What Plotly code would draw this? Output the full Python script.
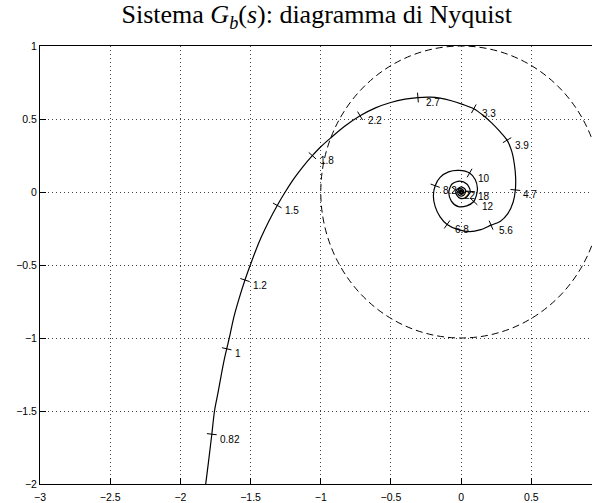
import math
import plotly.graph_objects as go

re_vals = [-1.826, -1.800, -1.776, -1.757, -1.733, -1.711, -1.688, -1.670, -1.650, -1.620,
           -1.582, -1.540, -1.500, -1.459, -1.426, -1.370, -1.310, -1.250, -1.190, -1.125,
           -1.060, -1.000, -0.931, -0.830, -0.720, -0.610, -0.502, -0.400, -0.308, -0.220,
           -0.150, -0.070, 0.010, 0.090, 0.160, 0.215, 0.272, 0.327, 0.360, 0.379,
           0.388, 0.386, 0.370, 0.331, 0.280, 0.213, 0.140, 0.060, -0.020, -0.100,
           -0.150, -0.185, -0.198, -0.185, -0.150, -0.090, -0.015, 0.060, 0.100, 0.116,
           0.108, 0.090, 0.040, -0.020, -0.070, -0.088, -0.065, -0.010, 0.040, 0.065,
           0.030, -0.010, -0.037, -0.035, 0.000, 0.028, 0.030, 0.018, 0.000, -0.020,
           -0.024, -0.015, 0.000, 0.016, 0.018, 0.010, 0.000, -0.012, -0.014, -0.008,
           0.000, 0.009, 0.010, 0.005, 0.000, -0.006, -0.006, -0.003, 0.000, 0.003, 0.000]
im_vals = [-2.050, -1.850, -1.659, -1.500, -1.380, -1.264, -1.150, -1.074, -0.993, -0.860,
           -0.730, -0.603, -0.495, -0.390, -0.314, -0.200, -0.092, 0.005, 0.093, 0.176,
           0.249, 0.310, 0.369, 0.450, 0.522, 0.576, 0.613, 0.636, 0.647, 0.650,
           0.643, 0.625, 0.600, 0.570, 0.522, 0.475, 0.418, 0.355, 0.280, 0.190,
           0.100, 0.014, -0.070, -0.150, -0.200, -0.227, -0.258, -0.272, -0.258, -0.222,
           -0.170, -0.100, -0.025, 0.043, 0.100, 0.138, 0.148, 0.130, 0.085, 0.025,
           -0.025, -0.065, -0.095, -0.100, -0.062, 0.000, 0.055, 0.075, 0.055, 0.004,
           -0.040, -0.042, -0.010, 0.012, 0.035, 0.020, -0.002, -0.022, -0.028, -0.018,
           0.002, 0.020, 0.023, 0.012, -0.002, -0.014, -0.016, -0.008, 0.002, 0.012,
           0.013, 0.006, -0.002, -0.008, -0.008, -0.003, 0.002, 0.005, 0.004, 0.001, 0.000]

# frequency marks (rad/s) and their positions on the curve
freq_labels = ["0.82", "1", "1.2", "1.5", "1.8", "2.2", "2.7", "3.3", "3.9", "4.7",
               "5.6", "6.8", "8.2", "10", "12", "18", "22"]
tick_re = [-1.776, -1.670, -1.540, -1.310, -1.060, -0.720, -0.308, 0.090, 0.327, 0.386,
           0.213, -0.100, -0.185, 0.060, 0.090, 0.065, -0.037]
tick_im = [-1.659, -1.074, -0.603, -0.092, 0.249, 0.522, 0.647, 0.570, 0.355, 0.014,
           -0.227, -0.222, 0.043, 0.130, -0.065, 0.004, 0.012]

x_ticks = [-3, -2.5, -2, -1.5, -1, -0.5, 0, 0.5]
y_ticks = [-2, -1.5, -1, -0.5, 0, 0.5, 1]

W, H = 592, 503
ML, MR, MT, MB = 40, 0, 46, 15
x_range = [-3, 0.932]
y_range = [-2, 1]
sx = (W - ML - MR) / (x_range[1] - x_range[0])
sy = (H - MT - MB) / (y_range[1] - y_range[0])

# orientation of the little marks: perpendicular to the curve
angles = []
for tx, ty in zip(tick_re, tick_im):
    i = min(range(len(re_vals)), key=lambda k: (re_vals[k] - tx) ** 2 + (im_vals[k] - ty) ** 2)
    a = max(i - 1, 0)
    b = min(i + 1, len(re_vals) - 1)
    dx = (re_vals[b] - re_vals[a]) * sx
    dy = -(im_vals[b] - im_vals[a]) * sy
    angles.append(math.degrees(math.atan2(dy, dx)) + 90)

fig = go.Figure()
fig.add_shape(type="circle", xref="x", yref="y", x0=-1, y0=-1, x1=1, y1=1,
              line=dict(color="black", width=1, dash="7px,4px"), layer="below")
fig.add_trace(go.Scatter(x=re_vals, y=im_vals, mode="lines",
                         line=dict(color="black", width=1.2, shape="spline", smoothing=0.8),
                         hoverinfo="skip", showlegend=False))
fig.add_trace(go.Scatter(x=tick_re, y=tick_im, mode="markers",
                         marker=dict(symbol="line-ew", size=7, angle=angles, color="black",
                                     line=dict(color="black", width=1)),
                         hoverinfo="skip", showlegend=False))
for lab, tx, ty in zip(freq_labels, tick_re, tick_im):
    fig.add_annotation(x=tx, y=ty, text=lab, showarrow=False, xanchor="left", yanchor="middle",
                       xshift=6, yshift=-5,
                       font=dict(family="Liberation Sans, Arial, sans-serif", size=10, color="black"))

axis_common = dict(showline=True, linecolor="black", linewidth=1, ticks="inside", ticklen=6,
                   tickcolor="black", showgrid=True, gridcolor="#444", gridwidth=1,
                   griddash="1px,3px", zeroline=False,
                   tickfont=dict(family="Liberation Sans, Arial, sans-serif", size=10.5, color="black"))
fig.update_xaxes(range=x_range, tickvals=x_ticks, mirror=True, ticklabelstandoff=3, **axis_common)
fig.update_yaxes(range=y_range, tickvals=y_ticks, mirror=False, **axis_common)

fig.update_layout(
    width=W, height=H, margin=dict(l=ML, r=MR, t=MT, b=MB),
    paper_bgcolor="white", plot_bgcolor="white",
    title=dict(text="Sistema <i>G</i><sub><i>b</i></sub>(<i>s</i>): diagramma di Nyquist",
               x=0.535, xanchor="center", y=0.972, yanchor="middle",
               font=dict(family="Liberation Serif, Times New Roman, serif", size=26, color="black")),
)

fig.write_html("out.html", config={"displayModeBar": False},
               post_script="document.body.style.margin='0';")
